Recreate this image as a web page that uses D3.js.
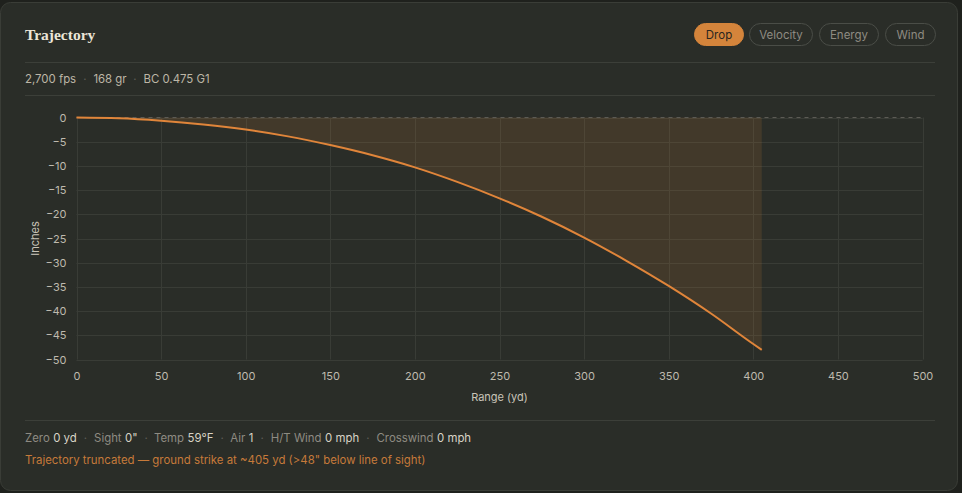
<!DOCTYPE html>
<html>
<head>
<meta charset="utf-8">
<script src="https://cdn.jsdelivr.net/npm/d3@7"></script>
<style>
  html, body { margin: 0; padding: 0; background: #1f211d; }
  svg { display: block; }
</style>
</head>
<body>
<div id="chart"></div>
<script>
// ranges (yd) and drop (inches)
const ranges = [0, 25, 50, 75, 100, 125, 150, 175, 200, 225, 250, 275, 300, 325, 350, 375, 400, 405];
const drop = [0, -0.15, -0.66, -1.45, -2.5, -3.9, -5.7, -7.8, -10.3, -13.3, -16.7, -20.5, -24.8, -29.6, -34.8, -40.5, -46.8, -48.0];
const xTicks = [0, 50, 100, 150, 200, 250, 300, 350, 400, 450, 500];
const yTicks = [0, -5, -10, -15, -20, -25, -30, -35, -40, -45, -50];
const tabs = ['Drop', 'Velocity', 'Energy', 'Wind'];
const loadInfo = ['2,700 fps', '168 gr', 'BC 0.475 G1'];
const conditions = [['Zero', '0 yd'], ['Sight', '0"'], ['Temp', '59°F'], ['Air', '1'], ['H/T Wind', '0 mph'], ['Crosswind', '0 mph']];
const warning = 'Trajectory truncated — ground strike at ~405 yd (>48" below line of sight)';

const W = 962, H = 493;
const M = { TOP: 117.5, LEFT: 76.5, RIGHT: 39.5, BOTTOM: 133.5 };
const FONT = 'Inter, "Noto Sans", sans-serif';
const SMALL = 11.4;

const svg = d3.select('#chart').append('svg')
    .attr('width', W)
    .attr('height', H);

// card
svg.append('rect')
    .attr('x', 0.5).attr('y', 2.5)
    .attr('width', 957).attr('height', 488)
    .attr('rx', 10)
    .attr('fill', '#2a2d28')
    .attr('stroke', '#3a3d37');

svg.append('text')
    .attr('x', 25).attr('y', 40)
    .text('Trajectory')
    .attr('fill', '#ece6d8')
    .attr('font-family', '"Liberation Serif", "DejaVu Serif", serif')
    .attr('font-weight', 700)
    .attr('font-size', 15.5);

// tab pills
const pillX = [694, 749, 819, 885], pillW = [49, 63, 59, 50];
tabs.forEach((t, i) => {
    const active = i === 0;
    svg.append('rect')
        .attr('x', pillX[i] + 0.5).attr('y', 23.5)
        .attr('width', pillW[i]).attr('height', 22)
        .attr('rx', 11)
        .attr('fill', active ? '#d4843b' : 'none')
        .attr('stroke', active ? '#d4843b' : '#4a4d47');
    svg.append('text')
        .attr('x', pillX[i] + 0.5 + pillW[i] / 2).attr('y', 39)
        .attr('text-anchor', 'middle')
        .text(t)
        .attr('fill', active ? '#2a2620' : '#8e8b82')
        .attr('font-family', FONT)
        .attr('font-size', 11.5);
});

svg.append('line').attr('x1', 25).attr('x2', 935).attr('y1', 62.5).attr('y2', 62.5).attr('stroke', '#3c3f39');
svg.append('line').attr('x1', 25).attr('x2', 935).attr('y1', 95.5).attr('y2', 95.5).attr('stroke', '#3c3f39');
svg.append('line').attr('x1', 25).attr('x2', 935).attr('y1', 420.5).attr('y2', 420.5).attr('stroke', '#3c3f39');

// text row with dot separators
function dotted(parent, items) {
    items.forEach((parts, i) => {
        if (i > 0) parent.append('tspan').attr('dx', 7).text('·').attr('fill', '#5f5d57');
        parts.forEach((p, j) => {
            parent.append('tspan')
                .attr('dx', j === 0 ? (i > 0 ? 7 : 0) : 3.5)
                .text(p.text)
                .attr('fill', p.color);
        });
    });
}

const info = svg.append('text')
    .attr('x', 25).attr('y', 83)
    .attr('font-family', FONT)
    .attr('font-size', SMALL);
dotted(info, loadInfo.map(s => [{ text: s, color: '#bdb6a6' }]));

// plot
const x = d3.scaleLinear().domain([0, 500]).range([M.LEFT, W - M.RIGHT]);
const y = d3.scaleLinear().domain([-50, 0]).range([H - M.BOTTOM, M.TOP]);

const g = svg.append('g');

g.append('g')
    .selectAll('line')
    .data(yTicks)
    .join('line')
    .attr('x1', x(0)).attr('x2', x(500))
    .attr('y1', d => Math.round(y(d)) + 0.5).attr('y2', d => Math.round(y(d)) + 0.5)
    .attr('stroke', '#393c36');

g.append('g')
    .selectAll('line')
    .data(xTicks)
    .join('line')
    .attr('x1', d => Math.round(x(d)) + 0.5).attr('x2', d => Math.round(x(d)) + 0.5)
    .attr('y1', y(0)).attr('y2', y(-50))
    .attr('stroke', '#393c36');

const pts = ranges.map((r, i) => [r, drop[i]]);

g.append('path')
    .datum(pts)
    .attr('d', d3.area().x(d => x(d[0])).y0(y(0)).y1(d => y(d[1])).curve(d3.curveMonotoneX))
    .attr('fill', '#d4843b')
    .attr('fill-opacity', 0.14);

g.append('line')
    .attr('x1', x(0)).attr('x2', x(500))
    .attr('y1', y(0)).attr('y2', y(0))
    .attr('stroke', '#5c5b55')
    .attr('stroke-dasharray', '4,4');

g.append('path')
    .datum(pts)
    .attr('d', d3.line().x(d => x(d[0])).y(d => y(d[1])).curve(d3.curveMonotoneX))
    .attr('fill', 'none')
    .attr('stroke', '#e0853a')
    .attr('stroke-width', 2);

const xAxis = g.append('g')
    .attr('transform', `translate(0, ${y(-50)})`)
    .call(d3.axisBottom(x).tickValues(xTicks).tickSize(0).tickPadding(13));
const yAxis = g.append('g')
    .attr('transform', `translate(${x(0)}, 0)`)
    .call(d3.axisLeft(y).tickValues(yTicks).tickSize(0).tickPadding(10).tickFormat(d3.format('d')));
[xAxis, yAxis].forEach(a => {
    a.select('.domain').remove();
    a.selectAll('text')
        .attr('fill', '#bfbaae')
        .attr('font-family', FONT)
        .attr('font-size', 11);
});

svg.append('text')
    .attr('x', (x(0) + x(500)) / 2).attr('y', 401)
    .attr('text-anchor', 'middle')
    .text('Range (yd)')
    .attr('fill', '#c9c4b8')
    .attr('font-family', FONT)
    .attr('font-size', 11);

svg.append('text')
    .attr('transform', `translate(39, ${(y(0) + y(-50)) / 2}) rotate(-90)`)
    .attr('text-anchor', 'middle')
    .text('Inches')
    .attr('fill', '#c9c4b8')
    .attr('font-family', FONT)
    .attr('font-size', 11);

// conditions footer
const cond = svg.append('text')
    .attr('x', 25).attr('y', 442)
    .attr('font-family', FONT)
    .attr('font-size', SMALL);
dotted(cond, conditions.map(([k, v]) => [{ text: k, color: '#8e8b82' }, { text: v, color: '#d8d3c6' }]));

svg.append('text')
    .attr('x', 25).attr('y', 464)
    .text(warning)
    .attr('fill', '#c67a3a')
    .attr('font-family', FONT)
    .attr('font-size', SMALL);
</script>
</body>
</html>
